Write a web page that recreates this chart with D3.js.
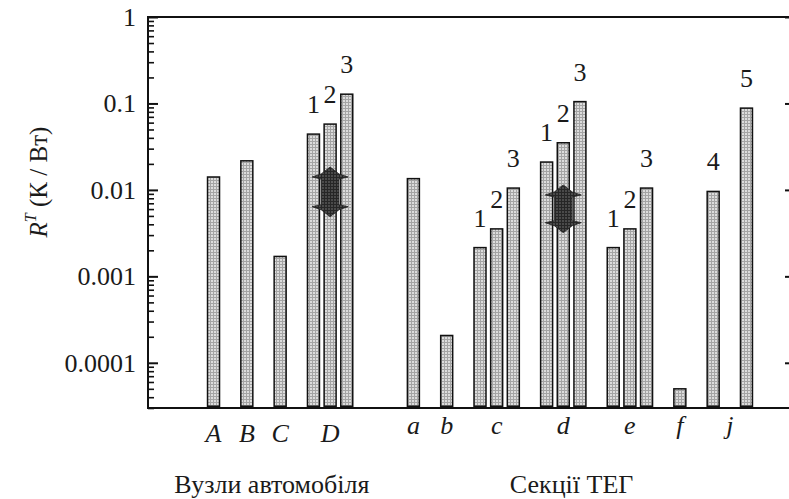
<!DOCTYPE html>
<html>
<head>
<meta charset="utf-8">
<script src="https://cdn.jsdelivr.net/npm/d3@7"></script>
<style>
  body { margin: 0; background: #fff; }
  svg { display: block; font-family: "Liberation Serif", "Times New Roman", serif; }
</style>
</head>
<body>
<svg id="chart"></svg>
<script>
// groups along the x axis and the section each one belongs to
var groups = ["A", "B", "C", "D", "a", "b", "c", "d", "e", "f", "j"];
var groupSection = [0, 0, 0, 0, 1, 1, 1, 1, 1, 1, 1];
var sections = ["Вузли автомобіля", "Секції ТЕГ"];
// groups whose bars (1, 2, 3) stand side by side
var packedGroups = ["D", "c", "d", "e"];

// one entry per bar
var barGroup = ["A", "B", "C", "D", "D", "D", "a", "b", "c", "c", "c", "d", "d", "d", "e", "e", "e", "f", "j", "j"];
var barLabel = ["", "", "", "1", "2", "3", "", "", "1", "2", "3", "1", "2", "3", "1", "2", "3", "", "4", "5"];
var barValue = [0.0141, 0.0217, 0.0017, 0.0442, 0.0577, 0.128, 0.0135, 0.000207,
                0.00215, 0.00354, 0.0105, 0.021, 0.0351, 0.105,
                0.00215, 0.00354, 0.0105, 0.00005, 0.0096, 0.0883];

var yTicks = [1, 0.1, 0.01, 0.001, 0.0001];
var yTickLabels = ["1", "0.1", "0.01", "0.001", "0.0001"];

// double headed arrows drawn over groups D and d
var arrowGroup = ["D", "d"];
var arrowTop = [0.0184, 0.0114];
var arrowBottom = [0.0049, 0.0032];

var width = 789, height = 499;
var plotLeft = 148, plotRight = 795, plotTop = 17, plotBottom = 408;

var svg = d3.select("#chart")
    .attr("width", width)
    .attr("height", height);

var defs = svg.append("defs");
var pat = defs.append("pattern")
    .attr("id", "grayDots")
    .attr("patternUnits", "userSpaceOnUse")
    .attr("width", 3).attr("height", 3);
pat.append("rect").attr("width", 3).attr("height", 3).attr("fill", "#dcdcdc");
pat.append("rect").attr("width", 3).attr("height", 1).attr("fill", "#a4a4a4");
pat.append("rect").attr("width", 1).attr("height", 3).attr("fill", "#a4a4a4");

var pat2 = defs.append("pattern")
    .attr("id", "darkDots")
    .attr("patternUnits", "userSpaceOnUse")
    .attr("width", 3).attr("height", 3);
pat2.append("rect").attr("width", 3).attr("height", 3).attr("fill", "#4a4a4a");
pat2.append("rect").attr("width", 3).attr("height", 1).attr("fill", "#262626");
pat2.append("rect").attr("width", 1).attr("height", 3).attr("fill", "#262626");

// slot index of every bar: packed bars are adjacent, others one slot apart,
// and a wider gap between the two sections
var slot = [];
var s = 0;
barGroup.forEach(function (g, i) {
    if (i > 0) {
        var prev = barGroup[i - 1];
        if (g == prev && packedGroups.indexOf(g) >= 0) s += 1;
        else if (groupSection[groups.indexOf(g)] != groupSection[groups.indexOf(prev)]) s += 4;
        else s += 2;
    }
    slot.push(s);
});

var x = d3.scaleBand()
    .domain(d3.range(s + 1))
    .range([205.2, 754.8])
    .paddingInner(0.28)
    .paddingOuter(0.14);

var y = d3.scaleLog()
    .domain([3e-5, 1])
    .range([plotBottom, plotTop]);

function barCenter(i) { return x(slot[i]) + x.bandwidth() / 2; }

function groupCenter(g) {
    var idx = [];
    barGroup.forEach(function (b, i) { if (b == g) idx.push(i); });
    return (barCenter(idx[0]) + barCenter(idx[idx.length - 1])) / 2;
}

// bars
var bars = svg.append("g").attr("class", "bars");
barValue.forEach(function (v, i) {
    bars.append("rect")
        .attr("x", x(slot[i]))
        .attr("y", y(v))
        .attr("width", x.bandwidth())
        .attr("height", plotBottom - y(v))
        .attr("fill", "url(#grayDots)")
        .attr("stroke", "#111")
        .attr("stroke-width", 1.5);
    bars.append("rect")
        .attr("x", x(slot[i]))
        .attr("y", plotBottom - 2.5)
        .attr("width", x.bandwidth())
        .attr("height", 2.5)
        .attr("fill", "#111");
    if (barLabel[i]) {
        svg.append("text")
            .attr("x", barCenter(i))
            .attr("y", y(v) - 21)
            .attr("text-anchor", "middle")
            .attr("font-size", 26)
            .attr("fill", "#1a1a1a")
            .text(barLabel[i]);
    }
});

// arrows
arrowGroup.forEach(function (g, i) {
    var cx = groupCenter(g), t = y(arrowTop[i]), b = y(arrowBottom[i]);
    var pts = [
        [cx, t], [cx + 9, t + 7], [cx + 18, t + 10], [cx + 9, t + 12],
        [cx + 9, b - 12], [cx + 18, b - 10], [cx + 9, b - 7], [cx, b],
        [cx - 9, b - 7], [cx - 18, b - 10], [cx - 9, b - 12],
        [cx - 9, t + 12], [cx - 18, t + 10], [cx - 9, t + 7]
    ];
    svg.append("path")
        .attr("d", d3.line()(pts) + "Z")
        .attr("fill", "url(#darkDots)")
        .attr("stroke", "#222")
        .attr("stroke-width", 0.8);
});

// minor ticks
var minor = [];
for (var d = -5; d < 0; d++) {
    for (var k = 2; k <= 9; k++) {
        var m = k * Math.pow(10, d);
        if (m >= 3e-5 && m <= 1) minor.push(m);
    }
}

var gLeft = svg.append("g").attr("transform", "translate(" + plotLeft + ",0)");
gLeft.call(d3.axisLeft(y).tickValues(minor).tickSize(-6).tickSizeOuter(0).tickFormat(""));
gLeft.select(".domain").remove();
gLeft.selectAll(".tick line").attr("stroke", "#111").attr("stroke-width", 1.6);

var gLeftMajor = svg.append("g").attr("transform", "translate(" + plotLeft + ",0)");
gLeftMajor.call(d3.axisLeft(y).tickValues(yTicks).tickSize(-10).tickSizeOuter(0).tickFormat(""));
gLeftMajor.select(".domain").remove();
gLeftMajor.selectAll(".tick line").attr("stroke", "#111").attr("stroke-width", 2);

var gRight = svg.append("g").attr("transform", "translate(" + plotRight + ",0)");
gRight.call(d3.axisRight(y).tickValues(yTicks).tickSize(-10).tickSizeOuter(0).tickFormat(""));
gRight.select(".domain").remove();
gRight.selectAll(".tick line").attr("stroke", "#111").attr("stroke-width", 2);

// frame
svg.append("rect")
    .attr("x", plotLeft).attr("y", plotTop)
    .attr("width", plotRight - plotLeft).attr("height", plotBottom - plotTop)
    .attr("fill", "none")
    .attr("stroke", "#111")
    .attr("stroke-width", 2);

// y tick labels
svg.append("g").selectAll("text")
    .data(yTicks)
    .enter().append("text")
    .attr("x", 136)
    .attr("y", function (d) { return y(d) + 9; })
    .attr("text-anchor", "end")
    .attr("font-size", 26)
    .attr("fill", "#1a1a1a")
    .text(function (d, i) { return yTickLabels[i]; });

// y axis title
var yTitle = svg.append("text")
    .attr("transform", "translate(47,182) rotate(-90)")
    .attr("text-anchor", "middle")
    .attr("font-size", 25)
    .attr("fill", "#1a1a1a");
yTitle.append("tspan").attr("font-style", "italic").text("R");
yTitle.append("tspan").attr("font-style", "italic").attr("font-size", 16).attr("dy", -11).text("T");
yTitle.append("tspan").attr("dy", 11).text(" (К / Вт)");

// group labels
groups.forEach(function (g, i) {
    svg.append("text")
        .attr("x", groupCenter(g))
        .attr("y", groupSection[i] == 0 ? 442 : 434)
        .attr("text-anchor", "middle")
        .attr("font-size", 26)
        .attr("font-style", "italic")
        .attr("fill", "#1a1a1a")
        .text(g);
});

// section titles
sections.forEach(function (name, si) {
    var gs = groups.filter(function (g, i) { return groupSection[i] == si; });
    var cx = (groupCenter(gs[0]) + groupCenter(gs[gs.length - 1])) / 2;
    svg.append("text")
        .attr("x", cx)
        .attr("y", 493)
        .attr("text-anchor", "middle")
        .attr("font-size", 26)
        .attr("fill", "#1a1a1a")
        .text(name);
});
</script>
</body>
</html>
